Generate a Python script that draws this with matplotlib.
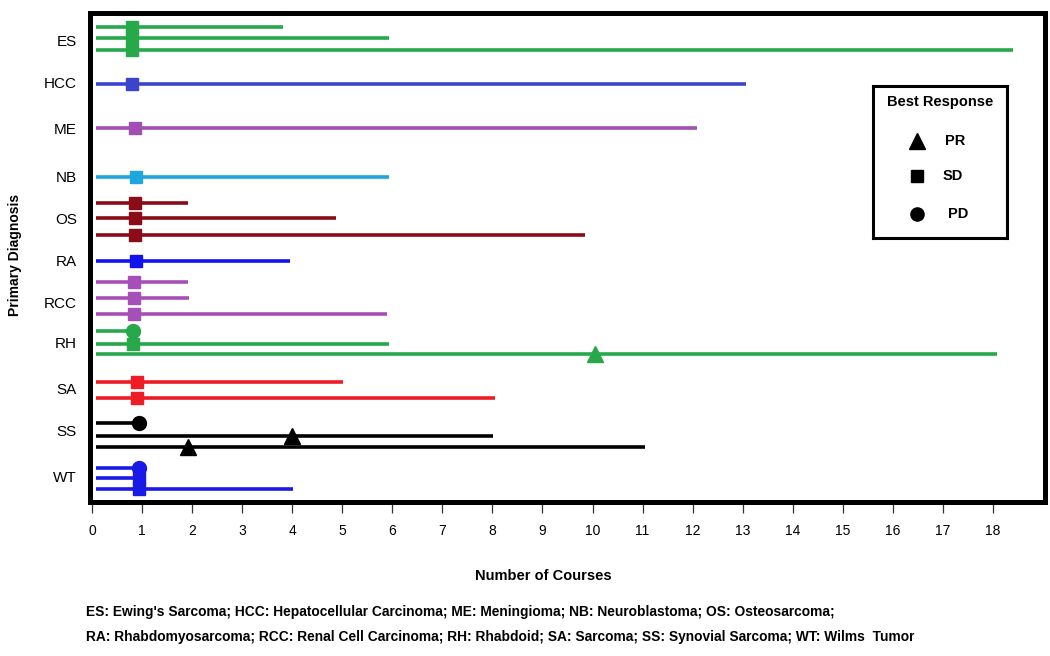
import matplotlib
matplotlib.use("Agg")
import matplotlib.pyplot as plt

plt.rcParams['font.family'] = ['Liberation Sans', 'DejaVu Sans']

# ---------------- data ----------------
categories = ['ES', 'HCC', 'ME', 'NB', 'OS', 'RA', 'RCC', 'RH', 'SA', 'SS', 'WT']
patient_dx = ['ES', 'ES', 'ES', 'HCC', 'ME', 'NB', 'OS', 'OS', 'OS', 'RA',
              'RCC', 'RCC', 'RCC', 'RH', 'RH', 'RH', 'SA', 'SA',
              'SS', 'SS', 'SS', 'WT', 'WT', 'WT']
courses = [3.82, 5.94, 18.4, 13.07, 12.08, 5.93, 1.92, 4.87, 9.85, 3.95,
           1.92, 1.94, 5.89, 0.8, 5.93, 18.08, 5.02, 8.05,
           1.0, 8.02, 11.05, 0.9, 0.9, 4.02]
response = ['SD', 'SD', 'SD', 'SD', 'SD', 'SD', 'SD', 'SD', 'SD', 'SD',
            'SD', 'SD', 'SD', 'PD', 'SD', 'PR', 'SD', 'SD',
            'PD', 'PR', 'PR', 'PD', 'SD', 'SD']
response_course = [0.8, 0.8, 0.8, 0.79, 0.86, 0.88, 0.86, 0.86, 0.86, 0.88,
                   0.84, 0.83, 0.84, 0.82, 0.82, 10.04, 0.9, 0.9,
                   0.93, 4.0, 1.92, 0.93, 0.93, 0.93]
xticks = list(range(0, 19))
footnote = ["ES: Ewing's Sarcoma; HCC: Hepatocellular Carcinoma; ME: Meningioma; NB: Neuroblastoma; OS: Osteosarcoma;",
            "RA: Rhabdomyosarcoma; RCC: Renal Cell Carcinoma; RH: Rhabdoid; SA: Sarcoma; SS: Synovial Sarcoma; WT: Wilms  Tumor"]

# ---------------- layout / style ----------------
row_y = [27, 38, 50, 84, 128, 177, 203, 218, 235, 261, 282, 298, 314,
         331, 344, 354, 382, 398, 423, 436, 447, 468, 478, 489]
label_y = [40, 83, 128, 176, 219, 261, 303, 343, 389, 430, 477]
line_start = 0.07
colors = {'ES': '#27a84a', 'HCC': '#3b45cc', 'ME': '#a24fb3', 'NB': '#1fa6dc',
          'OS': '#8a0c18', 'RA': '#1212ee', 'RCC': '#a64fb8', 'RH': '#27a84a',
          'SA': '#ee1c24', 'SS': '#000000', 'WT': '#1a1ae6'}
markers = {'PR': ('^', 12), 'SD': ('s', 9), 'PD': ('o', 10)}

W, H = 1050, 656
fig = plt.figure(figsize=(W / 100, H / 100), dpi=100)
L, R, T, B = 89.5, 1045, 12.5, 502
ax = fig.add_axes([L / W, 1 - B / H, (R - L) / W, (B - T) / H])

for dx, c, yy, resp, rc in zip(patient_dx, courses, row_y, response, response_course):
    col = colors[dx]
    ax.plot([line_start, c], [yy, yy], color=col, lw=2.6, solid_capstyle='butt', zorder=2)
    m, ms = markers[resp]
    ax.plot([rc], [yy], marker=m, markersize=ms, color=col, mec=col, ls='none', zorder=3)

ax.set_xlim(-0.05, 19.04)
ax.set_ylim(B, T)
ax.set_xticks(xticks)
ax.set_xticklabels([str(t) for t in xticks], fontsize=10)
ax.set_yticks(label_y)
ax.set_yticklabels(categories, fontsize=11)
ax.tick_params(axis='y', length=0, pad=9)
ax.tick_params(axis='x', length=8, width=0.9, color='#333333', pad=8, direction='out')
for s in ax.spines.values():
    s.set_linewidth(3.6)
    s.set_color('black')

fig.text(543 / W, 1 - 576 / H, 'Number of Courses', fontsize=10.5, fontweight='bold',
         ha='center', va='center')
fig.text(15 / W, 1 - 255 / H, 'Primary Diagnosis', fontsize=10, fontweight='bold',
         rotation=90, ha='center', va='center')
fig.text(86 / W, 1 - 612 / H, footnote[0], fontsize=9.9, fontweight='bold', ha='left', va='center')
fig.text(86 / W, 1 - 637 / H, footnote[1], fontsize=9.9, fontweight='bold', ha='left', va='center')

# legend box
lx0, ly0, lx1, ly1 = 873, 86, 1007, 238
lax = fig.add_axes([lx0 / W, 1 - ly1 / H, (lx1 - lx0) / W, (ly1 - ly0) / H])
lax.set_xlim(lx0, lx1)
lax.set_ylim(ly1, ly0)
lax.set_xticks([])
lax.set_yticks([])
for s in lax.spines.values():
    s.set_linewidth(2.2)
lax.text(940, 102, 'Best Response', fontsize=10.5, fontweight='bold', ha='center', va='center')
for lab, yy, xt in [('PR', 141, 945), ('SD', 176, 943), ('PD', 214, 948)]:
    m, ms = markers[lab]
    lax.plot([917], [yy], marker=m, markersize=ms * 0.95, color='black', ls='none')
    lax.text(xt, yy, lab, fontsize=10.5, fontweight='bold', ha='left', va='center')

fig.savefig('out.png', dpi=100)
